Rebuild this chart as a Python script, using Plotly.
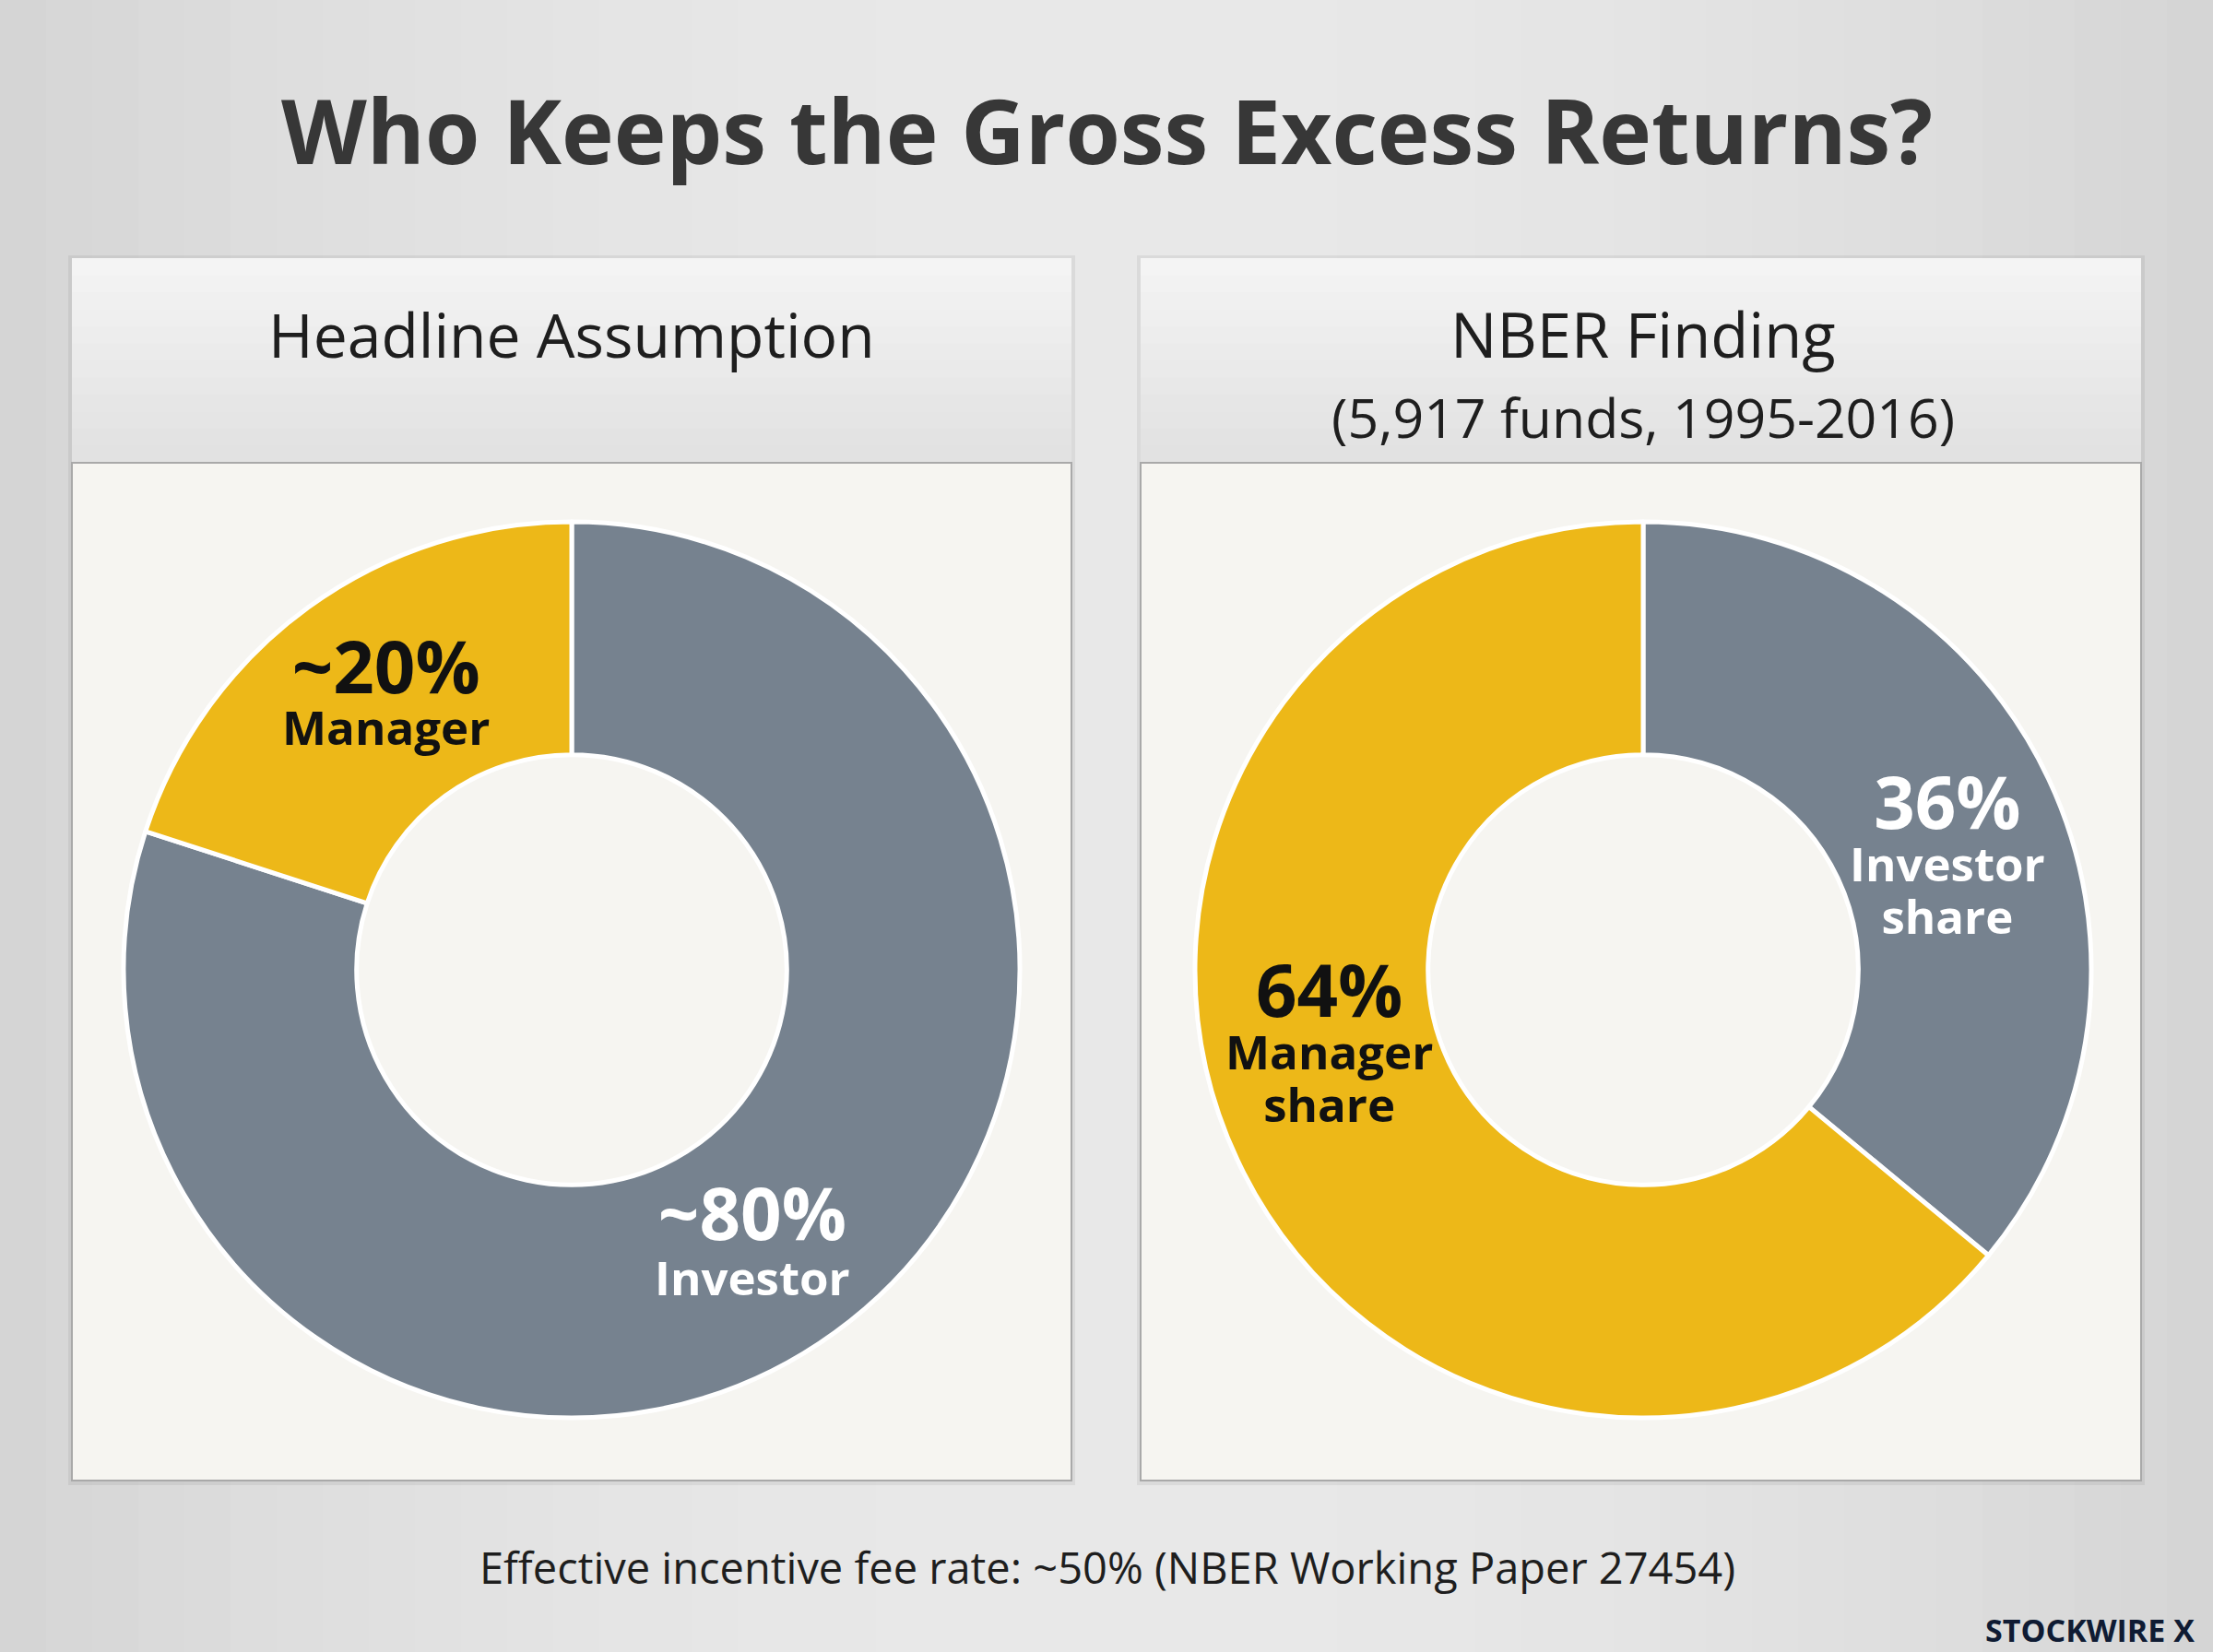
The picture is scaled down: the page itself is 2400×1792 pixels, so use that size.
import plotly.graph_objects as go

W, H = 2400, 1792

# ---------------- data ----------------
title_text = "Who Keeps the Gross Excess Returns?"
panel_titles = [["Headline Assumption"], ["NBER Finding", "(5,917 funds, 1995-2016)"]]
share_names = ["Investor", "Manager"]
headline_values = [80, 20]
nber_values = [36, 64]
headline_pct_text = ["~80%", "~20%"]
nber_pct_text = ["36%", "64%"]
headline_label_text = [["Investor"], ["Manager"]]
nber_label_text = [["Investor", "share"], ["Manager", "share"]]
footer_text = "Effective incentive fee rate: ~50% (NBER Working Paper 27454)"
brand_text = "STOCKWIRE X"

# ---------------- styling ----------------
YELLOW = "#EDB818"
GRAY = "#76828F"
slice_colors = [GRAY, YELLOW]
pct_colors = ["#FFFFFF", "#111111"]

def px(x):
    return x / W

def py(y):
    return 1 - y / H

fig = go.Figure()

# background brushed-metal approximation (vertical strips)
shapes = []
n = 48
for i in range(n):
    t = (i + 0.5) / n
    d = abs(t - 0.5) * 2
    v = int(233 - 20 * d ** 2)
    shapes.append(dict(type="rect", xref="paper", yref="paper",
                       x0=i / n, x1=(i + 1) / n + 0.001, y0=0, y1=1,
                       line=dict(width=0), fillcolor=f"rgb({v},{v},{v})", layer="below"))

panels_x = [(78, 1162), (1237, 2322)]
HEAD_Y0, HEAD_Y1, BODY_Y1 = 280, 502, 1606
for (x0, x1) in panels_x:
    shapes.append(dict(type="rect", xref="paper", yref="paper",
                       x0=px(x0 - 4), x1=px(x1 + 4), y0=py(BODY_Y1 + 5), y1=py(HEAD_Y0 - 3),
                       line=dict(width=0), fillcolor="rgba(0,0,0,0.06)", layer="below"))
    steps = 12
    for k in range(steps):
        ya = HEAD_Y0 + (HEAD_Y1 - HEAD_Y0) * k / steps
        yb = HEAD_Y0 + (HEAD_Y1 - HEAD_Y0) * (k + 1) / steps + 0.5
        v = int(244 - 18 * (k / (steps - 1)))
        shapes.append(dict(type="rect", xref="paper", yref="paper",
                           x0=px(x0), x1=px(x1), y0=py(yb), y1=py(ya),
                           line=dict(width=0), fillcolor=f"rgb({v},{v},{v})", layer="below"))
    shapes.append(dict(type="rect", xref="paper", yref="paper",
                       x0=px(x0), x1=px(x1), y0=py(BODY_Y1), y1=py(HEAD_Y1),
                       line=dict(width=2, color="#A9A9A9"), fillcolor="#F6F5F1", layer="below"))

# ---------------- donuts ----------------
R = 486
centers = [(620, 1052), (1782, 1052)]
for (cx, cy), vals in zip(centers, [headline_values, nber_values]):
    fig.add_trace(go.Pie(
        values=vals, labels=share_names, sort=False, direction="clockwise",
        rotation=0, hole=0.48, textinfo="none", showlegend=False,
        marker=dict(colors=slice_colors, line=dict(color="#FFFFFF", width=5)),
        domain=dict(x=[px(cx - R), px(cx + R)], y=[py(cy + R), py(cy - R)]),
        hovertemplate="%{label}: %{value}%<extra></extra>",
    ))

annotations = []
annotations.append(dict(text=f"<b>{title_text}</b>", x=0.5, y=py(141), xref="paper", yref="paper",
                        showarrow=False, xanchor="center", yanchor="middle",
                        font=dict(family="Open Sans", size=96, color="#373737")))

# panel headers
header_layout = [[(620, 362, 66)], [(1782, 362, 67), (1782, 452, 59)]]
for p in range(2):
    for (hx, hy, hs), txt in zip(header_layout[p], panel_titles[p]):
        annotations.append(dict(text=txt, x=px(hx), y=py(hy), xref="paper", yref="paper",
                                showarrow=False, xanchor="center", yanchor="middle",
                                font=dict(family="Open Sans", size=hs, color="#1E1E1E")))

# slice label blocks: (center x, center y, line-spacing base size) keyed by (panel, slice)
label_layout = {
    (0, 1): (418, 746, 43),
    (0, 0): (816, 1341, 46),
    (1, 1): (1441, 1126, 44),
    (1, 0): (2112, 922, 44),
}
pct_sets = [headline_pct_text, nber_pct_text]
lab_sets = [headline_label_text, nber_label_text]
for p in range(2):
    for s in range(2):
        lx, ly, base = label_layout[(p, s)]
        col = pct_colors[s]
        parts = [f"<span style='font-size:78px'>{pct_sets[p][s]}</span>"]
        parts += [f"<span style='font-size:51px'>{t}</span>" for t in lab_sets[p][s]]
        annotations.append(dict(text="<br>".join(parts), x=px(lx), y=py(ly),
                                xref="paper", yref="paper", showarrow=False,
                                xanchor="center", yanchor="middle", align="center",
                                font=dict(family="Open Sans", size=base, color=col, weight=700)))

annotations.append(dict(text=footer_text, x=px(1201), y=py(1700), xref="paper", yref="paper",
                        showarrow=False, xanchor="center", yanchor="middle",
                        font=dict(family="Open Sans", size=47, color="#1E1E1E")))
annotations.append(dict(text=f"<b>{brand_text}</b>", x=px(2382), y=py(1768), xref="paper", yref="paper",
                        showarrow=False, xanchor="right", yanchor="middle",
                        font=dict(family="Open Sans", size=34, color="#0F1B33")))

fig.update_layout(
    width=W, height=H, margin=dict(l=0, r=0, t=0, b=0),
    paper_bgcolor="#E2E2E2", plot_bgcolor="#E2E2E2",
    shapes=shapes, annotations=annotations,
)

fig.write_html("out.html", config={"displayModeBar": False},
               post_script="document.body.style.margin='0';document.body.style.overflow='hidden';")
